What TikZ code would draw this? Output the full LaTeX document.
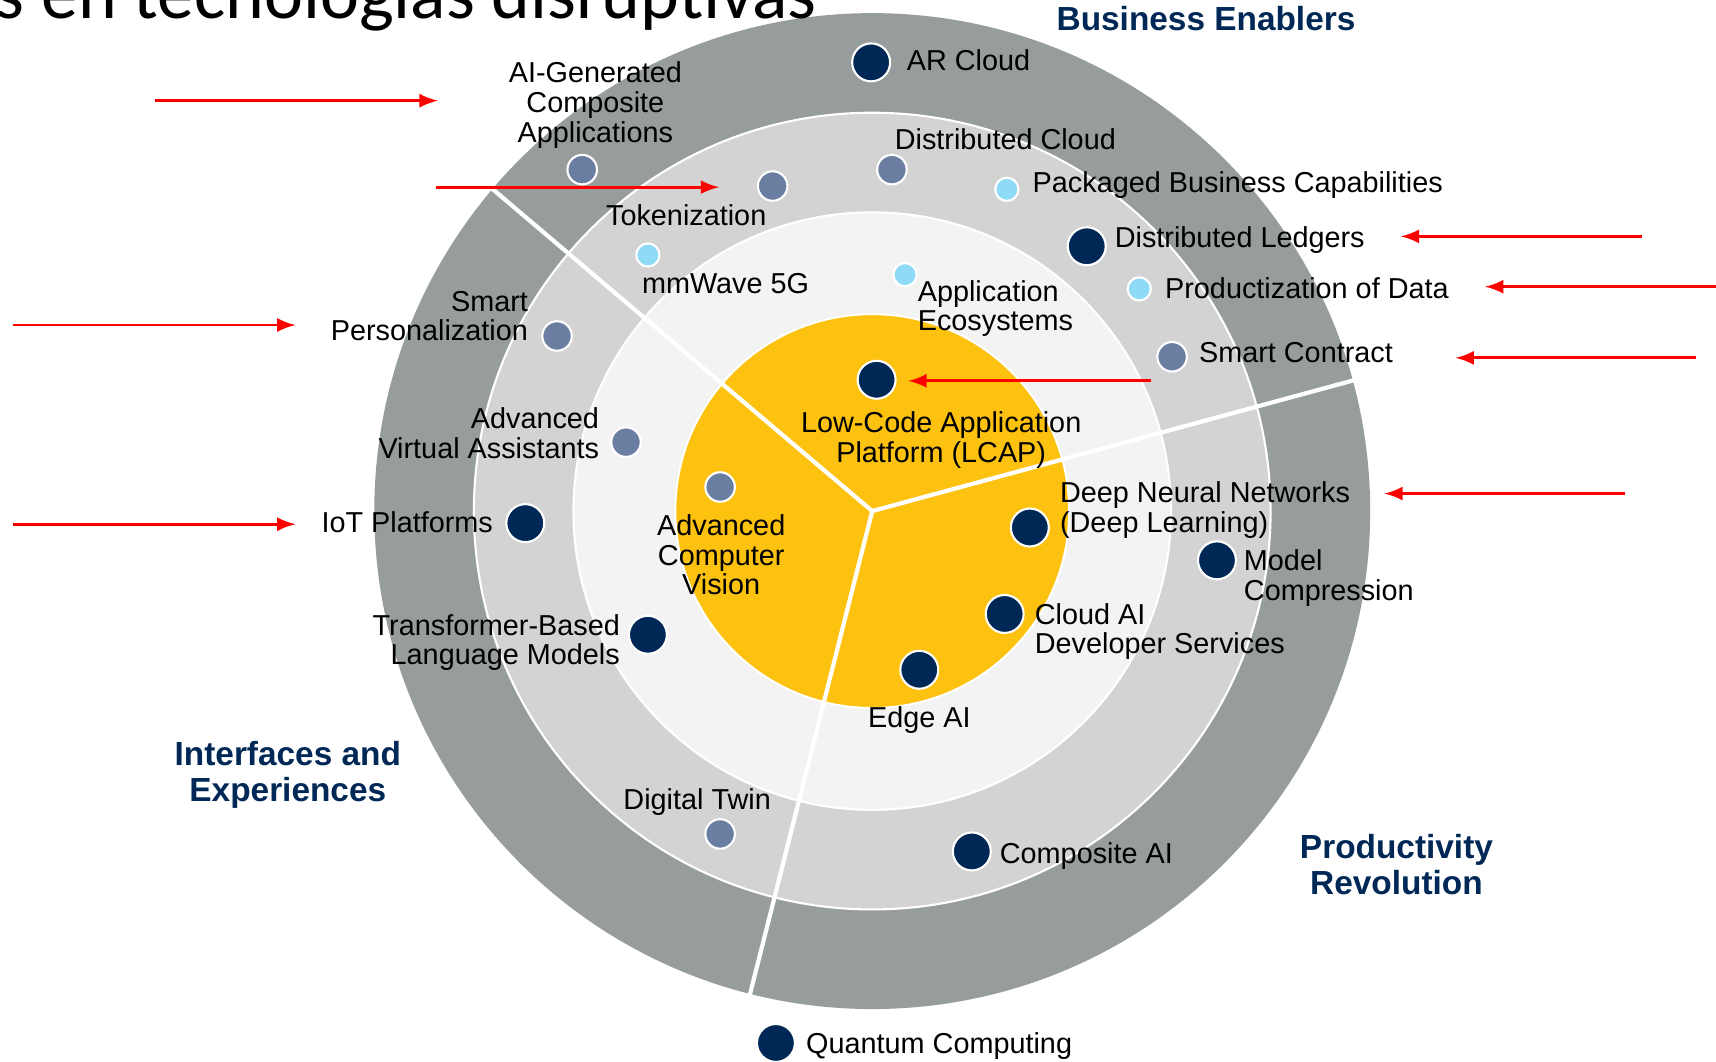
\documentclass[tikz,border=0pt]{standalone}
\usepackage{fontspec}
\usepackage{xcolor}
\setmainfont{Liberation Sans}
\newfontfamily\headfam{Carlito}
\newcommand{\radarfont}{\fontsize{8.2}{8.4}\selectfont}
\newcommand{\sectorfont}{\fontsize{9.5}{10.4}\selectfont\bfseries}
\newcommand{\headfont}{\headfam\fontsize{21}{24}\selectfont}
\definecolor{ringout}{RGB}{151,157,156}
\definecolor{ringmid}{RGB}{211,211,211}
\definecolor{ringin}{RGB}{243,243,243}
\definecolor{core}{RGB}{253,193,16}
\definecolor{navy}{RGB}{0,40,86}
\definecolor{slate}{RGB}{106,126,162}
\definecolor{sky}{RGB}{143,218,246}

\begin{document}
\begin{tikzpicture}[x=0.3114pt,y=-0.3114pt]
    \tikzstyle{every node}=[inner sep=0pt,font=\radarfont]
    \tikzstyle{dark}=[circle,fill=navy,draw=white,line width=0.6pt,minimum size=10.8pt]
    \tikzstyle{mid}=[circle,fill=slate,draw=white,line width=0.6pt,minimum size=8.4pt]
    \tikzstyle{light}=[circle,fill=sky,draw=white,line width=0.6pt,minimum size=6.6pt]
    \tikzstyle{sector}=[font=\sectorfont,text=navy,align=center]
    \tikzstyle{hint}=[red,line width=0.8pt,-latex]
    \clip (0,0) rectangle (1568,970);
    \fill[white] (0,0) rectangle (1568,970);
    \coordinate (c) at (797,467);
    \fill[ringout] (c) circle (455);
    \draw[white,line width=0.6pt,fill=ringmid] (c) circle (364);
    \draw[white,line width=0.6pt,fill=ringin] (c) circle (273);
    \draw[white,line width=0.6pt,fill=core] (c) circle (180);
    \draw[white,line width=1.2pt] (c) -- ++(220.3:460);
    \draw[white,line width=1.2pt] (c) -- ++(-15.2:460);
    \draw[white,line width=1.2pt] (c) -- ++(104.2:460);
    \draw (747,17) node[anchor=base east,font=\headfont] (title) {s en tecnologías disruptivas};
    \draw (1102,17) node[sector] (be) {Business Enablers};
    \draw (263,708) node[sector] (ie) {Interfaces and\\Experiences};
    \draw (1276,790) node[sector] (pr) {Productivity\\Revolution};
    \draw (796,57) node[dark] (ar) {};
    \draw (828,55) node[anchor=west] (arT) {AR Cloud};
    \draw (532,155) node[mid] (aig) {};
    \draw (544,96) node[align=center] (aigT) {AI-Generated\\Composite\\Applications};
    \draw (815,155) node[mid] (dc) {};
    \draw (817,127) node[anchor=west] (dcT) {Distributed Cloud};
    \draw (706,170) node[mid] (tok) {};
    \draw (627,197) node (tokT) {Tokenization};
    \draw (920,173) node[light] (pbc) {};
    \draw (943,169) node[anchor=west] (pbcT) {Packaged Business Capabilities};
    \draw (592,233) node[light] (mmw) {};
    \draw (586,259) node[anchor=west] (mmwT) {mmWave 5G};
    \draw (993,225) node[dark] (dl) {};
    \draw (1018,219) node[anchor=west] (dlT) {Distributed Ledgers};
    \draw (827,251) node[light] (ae) {};
    \draw (838,282) node[anchor=west,align=left] (aeT) {Application\\Ecosystems};
    \draw (1041,264) node[light] (pd) {};
    \draw (1064,263) node[anchor=west] (pdT) {Productization of Data};
    \draw (509,307) node[mid] (sp) {};
    \draw (483,289) node[anchor=east,align=right] (spT) {Smart\\Personalization};
    \draw (1071,326) node[mid] (sc) {};
    \draw (1095,322) node[anchor=west] (scT) {Smart Contract};
    \draw (801,347) node[dark] (lcap) {};
    \draw (860,402) node[align=center] (lcapT) {Low-Code Application\\Platform (LCAP)};
    \draw (572,404) node[mid] (ava) {};
    \draw (548,396) node[anchor=east,align=right] (avaT) {Advanced\\Virtual Assistants};
    \draw (658,445) node[mid] (acv) {};
    \draw (659,507) node[align=center] (acvT) {Advanced\\Computer\\Vision};
    \draw (480,478) node[dark] (iot) {};
    \draw (451,477) node[anchor=east] (iotT) {IoT Platforms};
    \draw (941,482) node[dark] (dnn) {};
    \draw (968,466) node[anchor=west,align=left] (dnnT) {Deep Neural Networks\\(Deep Learning)};
    \draw (1112,512) node[dark] (mc) {};
    \draw (1136,528) node[anchor=west,align=left] (mcT) {Model\\Compression};
    \draw (918,561) node[dark] (cai) {};
    \draw (945,577) node[anchor=west,align=left] (caiT) {Cloud AI\\Developer Services};
    \draw (592,580) node[dark] (tbl) {};
    \draw (567,587) node[anchor=east,align=right] (tblT) {Transformer-Based\\Language Models};
    \draw (840,612) node[dark] (edge) {};
    \draw (840,658) node (edgeT) {Edge AI};
    \draw (658,762) node[mid] (dt) {};
    \draw (637,733) node (dtT) {Digital Twin};
    \draw (888,778) node[dark] (comp) {};
    \draw (913,782) node[anchor=west] (compT) {Composite AI};
    \draw (709,953) node[dark] (qc) {};
    \draw (736,956) node[anchor=west] (qcT) {Quantum Computing};
    \coordinate (s1) at (142,92);
    \coordinate (e1) at (400,92);
    \coordinate (s2) at (398,171);
    \coordinate (e2) at (657,171);
    \coordinate (s3) at (12,297);
    \coordinate (e3) at (270,297);
    \coordinate (s4) at (12,479);
    \coordinate (e4) at (270,479);
    \coordinate (s5) at (1500,216);
    \coordinate (e5) at (1280,216);
    \coordinate (s6) at (1570,262);
    \coordinate (e6) at (1357,262);
    \coordinate (s7) at (1550,327);
    \coordinate (e7) at (1330,327);
    \coordinate (s8) at (1052,348);
    \coordinate (e8) at (830,348);
    \coordinate (s9) at (1485,451);
    \coordinate (e9) at (1265,451);
    \draw[hint] (s1) -- (e1);
    \draw[hint] (s2) -- (e2);
    \draw[hint] (s3) -- (e3);
    \draw[hint] (s4) -- (e4);
    \draw[hint] (s5) -- (e5);
    \draw[hint] (s6) -- (e6);
    \draw[hint] (s7) -- (e7);
    \draw[hint] (s8) -- (e8);
    \draw[hint] (s9) -- (e9);
\end{tikzpicture}
\end{document}
